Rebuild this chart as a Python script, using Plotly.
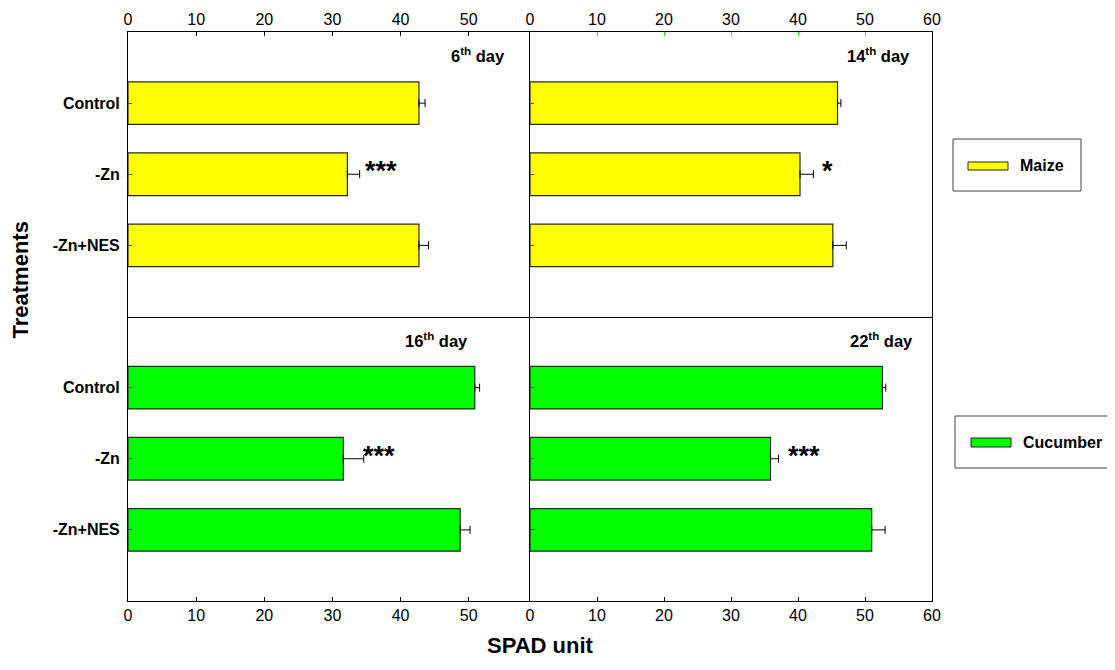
import plotly.graph_objects as go

categories = ["Control", "-Zn", "-Zn+NES"]

maize_day6 = [42.7, 32.2, 42.7]
maize_day6_err = [0.9, 1.8, 1.4]
maize_day14 = [45.9, 40.3, 45.2]
maize_day14_err = [0.5, 2.0, 2.0]
cucumber_day16 = [50.9, 31.6, 48.75]
cucumber_day16_err = [0.7, 3.0, 1.45]
cucumber_day22 = [52.6, 35.9, 51.0]
cucumber_day22_err = [0.5, 1.2, 2.0]

significance = ["***", "*", "***", "***"]
day_labels = ["6<sup>th</sup> day", "14<sup>th</sup> day", "16<sup>th</sup> day", "22<sup>th</sup> day"]
left_ticks = [0, 10, 20, 30, 40, 50]
right_ticks = [0, 10, 20, 30, 40, 50, 60]

YELLOW = "#FFFF00"
GREEN = "#00FF00"
FONT = "Liberation Sans, Arial, sans-serif"

W, H = 1115, 670
OFF = 8  # page body margin offset
ML, MT = 128 - OFF, 32 - OFF
PLOT_R, PLOT_B = 932 - OFF, 601 - OFF
MR, MB = W - PLOT_R, H - PLOT_B
PW = W - ML - MR
PH = H - MT - MB


def px(x):
    return (x - OFF - ML) / PW


def py(y):
    return (PLOT_B - (y - OFF)) / PH


panels = [
    (maize_day6, maize_day6_err, YELLOW, "x", "y"),
    (maize_day14, maize_day14_err, YELLOW, "x2", "y2"),
    (cucumber_day16, cucumber_day16_err, GREEN, "x3", "y3"),
    (cucumber_day22, cucumber_day22_err, GREEN, "x4", "y4"),
]

fig = go.Figure()
for vals, errs, col, xa, ya in panels:
    fig.add_trace(go.Bar(
        x=vals, y=categories, orientation="h", xaxis=xa, yaxis=ya,
        width=0.6, marker=dict(color=col, line=dict(color="#2a2a2a", width=1.2)),
        error_x=dict(type="data", array=errs, arrayminus=[0] * len(errs), symmetric=False,
                     color="black", thickness=1, width=4),
        showlegend=False, hoverinfo="x+y",
    ))

common_x = dict(showline=True, linecolor="black", linewidth=1, mirror=True, ticks="inside",
                ticklen=4, tickcolor="black", showgrid=False, zeroline=False,
                tickfont=dict(family=FONT, size=16, color="black"))
common_y = dict(showline=True, linecolor="black", linewidth=1, mirror=True, ticks="inside",
                ticklen=4, tickcolor="#555555", showgrid=False, zeroline=False,
                type="category", categoryorder="array", categoryarray=categories,
                range=[3, -1],
                tickfont=dict(family=FONT, size=16, color="black", weight="bold"))

fig.update_layout(
    width=W, height=H,
    margin=dict(l=ML, r=MR, t=MT, b=MB, autoexpand=False),
    plot_bgcolor="white", paper_bgcolor="white",
    font=dict(family=FONT, color="black"),
    bargap=0.4,
    xaxis=dict(common_x, domain=[0, 0.5], anchor="y", side="top", range=[0, 59], tickvals=left_ticks),
    yaxis=dict(common_y, domain=[0.5, 1], anchor="x", ticklabelstandoff=4, mirror=False),
    xaxis2=dict(common_x, domain=[0.5, 1], anchor="y2", side="top", range=[0, 60], tickvals=right_ticks,
                tickcolor=GREEN),
    yaxis2=dict(common_y, domain=[0.5, 1], anchor="x2", showticklabels=False),
    xaxis3=dict(common_x, domain=[0, 0.5], anchor="y3", side="bottom", range=[0, 59], tickvals=left_ticks,
                mirror=False),
    yaxis3=dict(common_y, domain=[0, 0.5], anchor="x3", ticklabelstandoff=4, mirror=False),
    xaxis4=dict(common_x, domain=[0.5, 1], anchor="y4", side="bottom", range=[0, 60], tickvals=right_ticks,
                mirror=False),
    yaxis4=dict(common_y, domain=[0, 0.5], anchor="x4", showticklabels=False),
)

# Day labels
day_pos = [(51.3, "x", "y"), (52.0, "x2", "y2"), (45.3, "x3", "y3"), (52.5, "x4", "y4")]
for lab, (dx, xa, ya) in zip(day_labels, day_pos):
    fig.add_annotation(x=dx, y=-0.67, xref=xa, yref=ya, text=lab, showarrow=False,
                       font=dict(family=FONT, size=16.5, color="black", weight="bold"))

# Significance stars next to -Zn bars
star_pos = [(37.1, "x", "y"), (44.4, "x2", "y2"), (36.8, "x3", "y3"), (40.9, "x4", "y4")]
for s, (sx, xa, ya) in zip(significance, star_pos):
    fig.add_annotation(x=sx, y="-Zn", xref=xa, yref=ya, text=s, showarrow=False, yshift=3,
                       font=dict(family=FONT, size=27, color="black", weight="bold"))

# Axis titles
fig.add_annotation(x=px(21), y=py(280), xref="paper", yref="paper", text="Treatments", textangle=-90,
                   xshift=-16, showarrow=False,
                   font=dict(family=FONT, size=22, color="black", weight="bold"))
fig.add_annotation(x=px(540), y=py(660), xref="paper", yref="paper", text="SPAD unit",
                   showarrow=False, font=dict(family=FONT, size=22, color="black", weight="bold"))

# Legend boxes
legends = [
    ("Maize", YELLOW, (953, 139, 1081, 191), (968, 162, 1008, 170), 1018, 166),
    ("Cucumber", GREEN, (955, 416, 1125, 468), (971, 438, 1011, 447), 1021, 442),
]
for name, col, box, sw, tx, ty in legends:
    fig.add_shape(type="rect", xref="paper", yref="paper", x0=px(box[0]), x1=px(box[2]),
                  y0=py(box[3]), y1=py(box[1]), line=dict(color="#444444", width=1), fillcolor="white")
    fig.add_shape(type="rect", xref="paper", yref="paper", x0=px(sw[0]), x1=px(sw[2]),
                  y0=py(sw[3]), y1=py(sw[1]), line=dict(color="#222222", width=1), fillcolor=col)
    fig.add_annotation(x=px(tx), y=py(ty), xref="paper", yref="paper", text=name, showarrow=False,
                       xanchor="left", yanchor="middle",
                       font=dict(family=FONT, size=16, color="black", weight="bold"))

fig.write_html("out.html")
